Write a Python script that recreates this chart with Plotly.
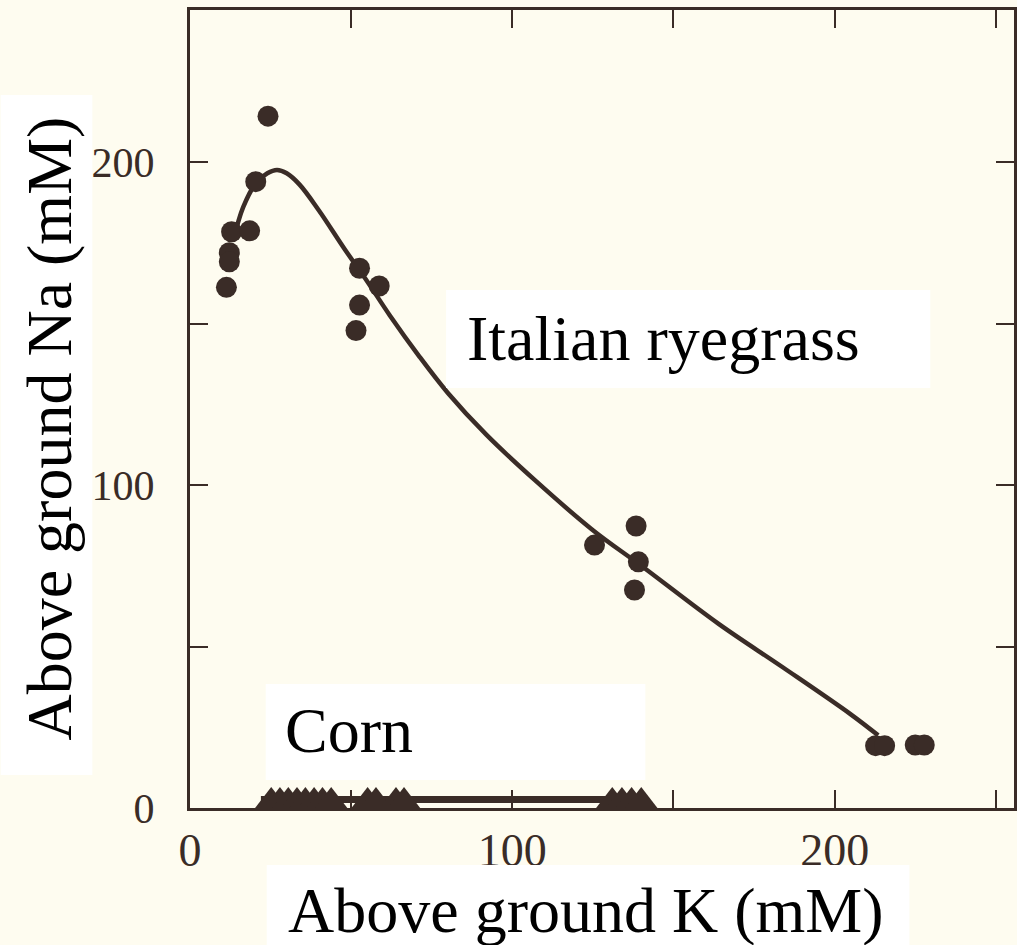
import plotly.graph_objects as go

# Italian ryegrass observations (K, Na in mM)
rye_k = [24.2, 20.4, 12.9, 18.5, 12.2, 12.2, 11.3, 52.6, 58.7, 52.6, 51.5,
         138.4, 125.5, 139.1, 137.9, 212.7, 215.5, 225.0, 227.8]
rye_na = [214.2, 193.9, 178.4, 178.7, 171.9, 169.1, 161.2, 167.1, 161.6, 155.7, 147.8,
          87.3, 81.4, 76.2, 67.5, 19.3, 19.3, 19.5, 19.5]

# Fitted curve for Italian ryegrass
fit_k = [13.5, 16.5, 20.5, 24, 27, 30, 34, 40, 48, 55, 62, 71, 80, 92, 107,
         125, 140, 164, 184, 205, 213.5]
fit_na = [176, 186, 193.5, 196.5, 197.5, 196.5, 193, 185, 173, 163, 152.5, 140, 128.5,
          115.5, 101.5, 86, 75, 57, 43.5, 29, 22.5]

# Corn observations
corn_k = [25.2, 27.9, 30.5, 33.2, 35.8, 38.5, 41.1, 43.8,
          55.1, 57.7, 63.9, 66.4,
          131.0, 134.0, 137.0, 140.0]
corn_na = [2.2] * len(corn_k)
corn_fit_k = [22, 141]
corn_fit_na = [2.6, 2.6]

x_tickvals = [0, 50, 100, 150, 200, 250]
x_ticktext = ["0", "", "100", "", "200", ""]
y_tickvals = [0, 50, 100, 150, 200]
y_ticktext = ["0", "", "100", "", "200"]

ink = "#3a2c27"
bg = "#fefcf0"

fig = go.Figure()
fig.add_trace(go.Scatter(x=fit_k, y=fit_na, mode="lines", line=dict(color=ink, width=4.5, shape="spline", smoothing=1.0),
                         hoverinfo="skip", showlegend=False))
fig.add_trace(go.Scatter(x=rye_k, y=rye_na, mode="markers",
                         marker=dict(symbol="circle", size=21, color=ink), showlegend=False))
fig.add_trace(go.Scatter(x=corn_fit_k, y=corn_fit_na, mode="lines", line=dict(color=ink, width=7),
                         hoverinfo="skip", showlegend=False))
fig.add_trace(go.Scatter(x=corn_k, y=corn_na, mode="markers",
                         marker=dict(symbol="triangle-up", size=28, color=ink), showlegend=False))

W, H = 1017, 945
L, R, T, B = 190, 0, 10, 137
pw, ph = W - L - R, H - T - B


def px(xp):
    return (xp - L) / pw


def py(yp):
    return (H - B - yp) / ph


boxes = [(447, 933, 290, 388), (266, 647, 684, 780), (267, 912, 865, 945), (0, 92, 95, 775)]
shapes = []
for x0, x1, y0, y1 in boxes:
    shapes.append(dict(type="rect", xref="paper", yref="paper", x0=px(x0), x1=px(x1), y0=py(y1), y1=py(y0),
                       fillcolor="white", line=dict(width=0), layer="above"))

serif = "Liberation Serif, Times New Roman, serif"
annotations = [
    dict(text="Italian ryegrass", x=px(466), y=py(338), xanchor="left", yanchor="middle"),
    dict(text="Corn", x=px(283), y=py(730), xanchor="left", yanchor="middle"),
    dict(text="Above ground K (mM)", x=px(286), y=py(910), xanchor="left", yanchor="middle"),
    dict(text="Above ground Na (mM)", x=px(48), y=py(429), xanchor="center", yanchor="middle", textangle=-90),
]
for a in annotations:
    a.update(xref="paper", yref="paper", showarrow=False, font=dict(family=serif, size=64, color="black"))

axis_common = dict(showline=True, linecolor=ink, linewidth=3, mirror="ticks", ticks="inside",
                   ticklen=18, tickwidth=2, tickcolor=ink, showgrid=False, zeroline=False)

fig.update_layout(
    width=W, height=H, autosize=False,
    margin=dict(l=L, r=R, t=T, b=B),
    paper_bgcolor=bg, plot_bgcolor=bg,
    shapes=shapes, annotations=annotations,
    xaxis=dict(range=[0, pw / 3.235], tickvals=x_tickvals, ticktext=x_ticktext,
               tickfont=dict(family=serif, size=46, color=ink), **axis_common),
    yaxis=dict(range=[0, ph / 3.23], tickvals=y_tickvals, ticktext=y_ticktext,
               tickfont=dict(family=serif, size=42, color=ink), ticklabelstandoff=24, **axis_common),
)

fig.write_html("out.html", config={"responsive": False, "displayModeBar": False},
               post_script="document.body.style.margin='0';document.body.style.overflow='hidden';")
